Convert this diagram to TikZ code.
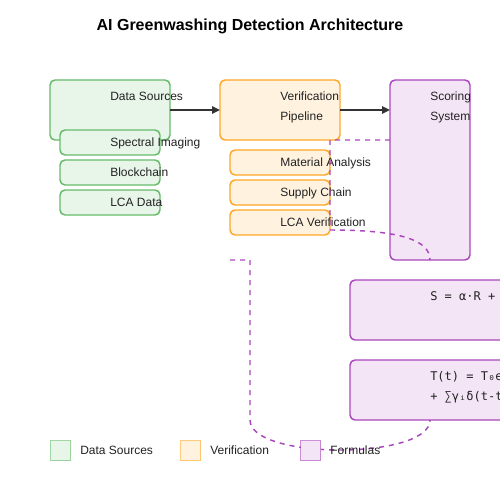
\documentclass[tikz,border=0pt]{standalone}
\usepackage{fontspec}
\setmainfont{Liberation Sans}
\newfontfamily\formfont{DejaVu Sans Mono}
\usetikzlibrary{arrows.meta}
\definecolor{gstroke}{HTML}{66BB6A}
\definecolor{gfill}{HTML}{E8F5E9}
\definecolor{ostroke}{HTML}{FFA726}
\definecolor{ofill}{HTML}{FFF3E0}
\definecolor{pstroke}{HTML}{AB47BC}
\definecolor{pfill}{HTML}{F3E5F5}
\definecolor{arrgray}{HTML}{333333}
\definecolor{txt}{HTML}{222222}
\tikzset{
  box/.style={anchor=north west, rounded corners=3.75pt, line width=1.1pt, inner sep=0pt, outer sep=0pt},
  gbox/.style={box, draw=gstroke, fill=gfill},
  obox/.style={box, draw=ostroke, fill=ofill},
  pbox/.style={box, draw=pstroke, fill=pfill},
  big/.style={minimum width=90pt, minimum height=45pt},
  small/.style={minimum width=75pt, minimum height=18.75pt},
  lbl/.style={anchor=base west, inner sep=0pt, text=txt, font=\fontsize{9}{11}\selectfont},
  flbl/.style={anchor=base west, inner sep=0pt, text=txt, font=\formfont\fontsize{9}{11}\selectfont},
  titlestyle/.style={anchor=base, inner sep=0pt, text=black, font=\bfseries\fontsize{12}{14}\selectfont},
  arr/.style={draw=arrgray, line width=1.1pt, -{Triangle[length=6pt,width=5.5pt]}},
  dashconn/.style={draw=pstroke, line width=1.1pt, dash pattern=on 3.75pt off 3.75pt},
  legbox/.style={anchor=north west, minimum width=15pt, minimum height=15pt, inner sep=0pt, line width=1.1pt, draw opacity=0.6},
}
\begin{document}
\begin{tikzpicture}[x=0.75pt,y=-0.75pt]
\useasboundingbox (0,0) rectangle (500,500);
\clip (0,0) rectangle (500,500);
\fill[white] (0,0) rectangle (500,500);
\node[titlestyle] (title) at (250,30) {AI Greenwashing Detection Architecture};

% Data sources
\node[gbox, big] (ds) at (50,80) {};
\node[gbox, small] (si) at (60,130) {};
\node[gbox, small] (bc) at (60,160) {};
\node[gbox, small] (lcad) at (60,190) {};
\node[lbl] (dsT) at (110,100) {Data Sources};
\node[lbl] (siT) at (110,146) {Spectral Imaging};
\node[lbl] (bcT) at (110,176) {Blockchain};
\node[lbl] (lcadT) at (110,206) {LCA Data};

% Verification
\node[obox, big] (vp) at (220,80) {};
\node[obox, small] (ma) at (230,150) {};
\node[obox, small] (scn) at (230,180) {};
\node[obox, small] (lcav) at (230,210) {};
\node[lbl] (vpT1) at (280,100) {Verification};
\node[lbl] (vpT2) at (280,120) {Pipeline};
\node[lbl] (maT) at (280,166) {Material Analysis};
\node[lbl] (scnT) at (280,196) {Supply Chain};
\node[lbl] (lcavT) at (280,226) {LCA Verification};

% Scoring
\node[pbox, minimum width=60pt, minimum height=135pt] (sc) at (390,80) {};
\node[lbl] (scT1) at (430,100) {Scoring};
\node[lbl] (scT2) at (430,120) {System};

% Formulas
\node[pbox, minimum width=150pt, minimum height=45pt] (f1) at (350,280) {};
\node[pbox, minimum width=150pt, minimum height=45pt] (f2) at (350,360) {};
\node[flbl] (f1T) at (430,300) {S = α·R +};
\node[flbl] (f2T1) at (430,380) {T(t) = T₀e};
\node[flbl] (f2T2) at (430,400) {+ ∑γᵢδ(t-t};

% Arrows
\draw[arr] (ds.east) -- (vp.west);
\draw[arr] (vp.east) -- (vp.east -| sc.west);

% Dashed connectors
\coordinate (c1s) at (390,140);
\coordinate (c1a) at (330,140);
\coordinate (c1b) at (330,230);
\draw[dashconn] (c1s) -- (c1a) -- (c1b) .. controls (400,230) and (430,240) .. (sc.south);
\coordinate (c2s) at (230,260);
\coordinate (c2a) at (250,260);
\coordinate (c2b) at (250,420);
\coordinate (c2e) at (430,420);
\draw[dashconn] (c2s) -- (c2a) -- (c2b) .. controls (250,460) and (430,460) .. (c2e);

% Legend
\node[legbox, draw=gstroke, fill=gfill] (lg1) at (50,440) {};
\node[lbl] (lg1T) at (80,454) {Data Sources};
\node[legbox, draw=ostroke, fill=ofill] (lg2) at (180,440) {};
\node[lbl] (lg2T) at (210,454) {Verification};
\node[legbox, draw=pstroke, fill=pfill] (lg3) at (300,440) {};
\node[lbl] (lg3T) at (330,454) {Formulas};
\end{tikzpicture}
\end{document}
